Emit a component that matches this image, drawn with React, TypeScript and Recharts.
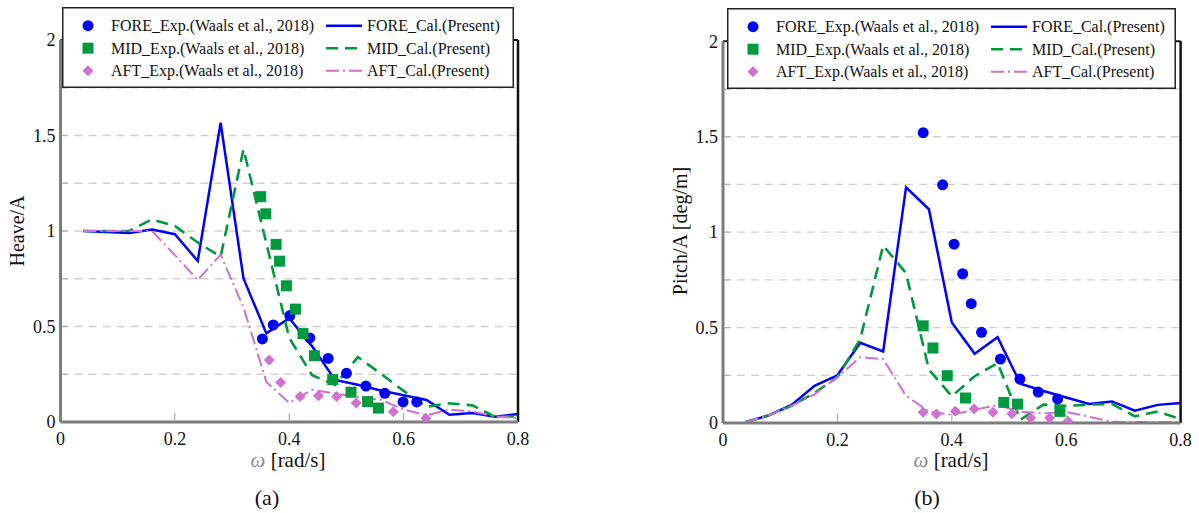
import React from 'react';
import { ComposedChart, Line, Scatter, XAxis, YAxis, CartesianGrid, ReferenceLine, Legend } from 'recharts';

// ---------- data ----------
const omegaCal = [0.04, 0.08, 0.12, 0.16, 0.2, 0.24, 0.28, 0.32, 0.36, 0.4, 0.44, 0.48, 0.52, 0.56, 0.6, 0.64, 0.68, 0.72, 0.76, 0.8];

// (a) Heave/A
const heaveForeCal = [1.0, 0.995, 0.99, 1.008, 0.983, 0.843, 1.567, 0.752, 0.464, 0.543, 0.396, 0.22, 0.195, 0.165, 0.14, 0.115, 0.038, 0.047, 0.028, 0.042];
const heaveMidCal = [1.0, 1.0, 1.0, 1.061, 1.026, 0.94, 0.866, 1.428, 0.935, 0.44, 0.245, 0.194, 0.34, 0.253, 0.163, 0.08, 0.098, 0.087, 0.028, 0.03];
const heaveAftCal = [1.0, 1.0, 1.0, 1.0, 0.874, 0.743, 0.876, 0.6, 0.21, 0.1, 0.168, 0.15, 0.13, 0.116, 0.065, 0.035, 0.065, 0.055, 0.03, 0.02];

const heaveForeExpW = [0.353, 0.372, 0.401, 0.436, 0.468, 0.5, 0.534, 0.567, 0.599, 0.623];
const heaveForeExp = [0.435, 0.508, 0.557, 0.44, 0.333, 0.255, 0.188, 0.15, 0.105, 0.105];
const heaveMidExpW = [0.35, 0.359, 0.377, 0.383, 0.395, 0.411, 0.424, 0.444, 0.476, 0.508, 0.537, 0.556];
const heaveMidExp = [1.18, 1.09, 0.93, 0.842, 0.713, 0.591, 0.463, 0.347, 0.222, 0.156, 0.107, 0.073];
const heaveAftExpW = [0.365, 0.385, 0.419, 0.451, 0.483, 0.517, 0.582, 0.639];
const heaveAftExp = [0.324, 0.207, 0.134, 0.138, 0.134, 0.1, 0.054, 0.019];

// (b) Pitch/A
const pitchForeCal = [0.005, 0.04, 0.095, 0.195, 0.25, 0.42, 0.375, 1.235, 1.12, 0.527, 0.363, 0.45, 0.206, 0.168, 0.134, 0.1, 0.113, 0.065, 0.095, 0.105];
const pitchMidCal = [0.005, 0.04, 0.09, 0.158, 0.24, 0.44, 0.93, 0.785, 0.28, 0.14, 0.245, 0.314, 0.017, 0.096, 0.09, 0.096, 0.1, 0.035, 0.06, 0.02];
const pitchAftCal = [0.005, 0.04, 0.09, 0.15, 0.24, 0.345, 0.335, 0.143, 0.06, 0.043, 0.07, 0.093, 0.06, 0.05, 0.058, 0.033, 0.006, 0.005, 0.005, 0.005];

const pitchForeExpW = [0.35, 0.384, 0.404, 0.419, 0.434, 0.452, 0.485, 0.519, 0.551, 0.585];
const pitchForeExp = [1.521, 1.248, 0.937, 0.782, 0.625, 0.475, 0.335, 0.23, 0.162, 0.126];
const pitchMidExpW = [0.35, 0.367, 0.392, 0.424, 0.491, 0.515, 0.589];
const pitchMidExp = [0.509, 0.393, 0.248, 0.131, 0.108, 0.099, 0.061];
const pitchAftExpW = [0.35, 0.373, 0.406, 0.439, 0.472, 0.505, 0.538, 0.571, 0.603];
const pitchAftExp = [0.056, 0.047, 0.061, 0.073, 0.056, 0.049, 0.026, 0.026, 0.009];

const xTicks = [0, 0.2, 0.4, 0.6, 0.8];
const yTicks = [0, 0.25, 0.5, 0.75, 1, 1.25, 1.5, 1.75, 2];

const legendExp = ['FORE_Exp.(Waals et al., 2018)', 'MID_Exp.(Waals et al., 2018)', 'AFT_Exp.(Waals et al., 2018)'];
const legendCal = ['FORE_Cal.(Present)', 'MID_Cal.(Present)', 'AFT_Cal.(Present)'];

// ---------- styles ----------
const FONT = "'Liberation Serif', 'Times New Roman', serif";
const BLUE = '#0000ff';
const GREEN = '#009a3e';
const PINK = '#d070d0';
const COLORS = [BLUE, GREEN, PINK];
const DASHES = [undefined, '12 7', '13 4 2 4'];
const WIDTHS = [2.5, 2.6, 2];
const AXIS_GRAY = '#7d7d7d';
const X_TICK_MARGIN = 10;
const Y_TICK_MARGIN = 5;

const pts = (xs: number[], ys: number[]) => xs.map((x, i) => ({ x, y: ys[i] }));

const Circle = (p: any) => <circle cx={p.cx} cy={p.cy} r={5.5} fill={BLUE} />;
const Square = (p: any) => <rect x={p.cx - 5.5} y={p.cy - 5.5} width={11} height={11} fill={GREEN} />;
const Diamond = (p: any) => (
  <polygon points={`${p.cx},${p.cy - 5.5} ${p.cx + 5.5},${p.cy} ${p.cx},${p.cy + 5.5} ${p.cx - 5.5},${p.cy}`} fill={PINK} />
);
const SHAPES = [Circle, Square, Diamond];

const fmt = (v: number) => String(v);

const XTick = (props: any) => {
  const { x, y, payload } = props;
  const v = payload.value;
  const axisY = y - X_TICK_MARGIN;
  const inner = v > 0.001 && v < 0.799;
  return (
    <g>
      {inner && <line x1={x} x2={x} y1={axisY - 1.5} y2={axisY - 9} stroke="#b0b0b0" strokeWidth={1.2} />}
      <text x={x} y={y} dy="0.71em" textAnchor="middle" fontFamily={FONT} fontSize={18} fill="#111">
        {fmt(v)}
      </text>
    </g>
  );
};

const YTick = (props: any) => {
  const { x, y, payload } = props;
  const v = payload.value;
  const axisX = x + Y_TICK_MARGIN;
  const major = Math.abs(v * 2 - Math.round(v * 2)) < 1e-6;
  const inner = v > 0.001 && v < 1.999;
  return (
    <g>
      {inner && <line x1={axisX + 1.5} x2={axisX + 7} y1={y} y2={y} stroke="#b0b0b0" strokeWidth={1.2} />}
      {major && (
        <text x={x} y={y} dy="0.35em" textAnchor="end" fontFamily={FONT} fontSize={18} fill="#111">
          {fmt(v)}
        </text>
      )}
    </g>
  );
};

const LegendBox = ({ width }: { width: number }) => (
  <svg width={width} height={81} style={{ display: 'block' }}>
    <rect x={0.75} y={0.75} width={width - 1.5} height={79.5} fill="#fff" stroke="#222" strokeWidth={1.5} />
    {legendExp.map((label, i) => {
      const cy = 18.7 + i * 22.5;
      const Shape = SHAPES[i];
      return (
        <g key={label}>
          <Shape cx={26} cy={cy} />
          <text x={49} y={cy} dy="0.35em" fontFamily={FONT} fontSize={16} fill="#111">
            {label}
          </text>
          <line x1={264} x2={300} y1={cy} y2={cy} stroke={COLORS[i]} strokeWidth={WIDTHS[i]} strokeDasharray={DASHES[i]} />
          <text x={305} y={cy} dy="0.35em" fontFamily={FONT} fontSize={16} fill="#111">
            {legendCal[i]}
          </text>
        </g>
      );
    })}
  </svg>
);

type PanelProps = {
  left: number;
  width: number;
  margin: { top: number; right: number; left: number; bottom: number };
  yAxisWidth: number;
  xAxisHeight: number;
  legendLeft: number;
  legendTop: number;
  legendWidth: number;
  cal: number[][];
  exp: { w: number[]; v: number[] }[];
};

const Panel = (p: PanelProps) => (
  <div style={{ position: 'absolute', left: p.left, top: 0 }}>
    <ComposedChart width={p.width} height={513} margin={p.margin}>
      <CartesianGrid vertical={false} stroke="#d0d0d0" strokeDasharray="8 6" strokeWidth={1.3} />
      <XAxis
        type="number"
        dataKey="x"
        domain={[0, 0.8]}
        ticks={xTicks}
        allowDataOverflow
        height={p.xAxisHeight}
        tickSize={0}
        tickMargin={X_TICK_MARGIN}
        tickLine={false}
        axisLine={{ stroke: AXIS_GRAY, strokeWidth: 3 }}
        tick={<XTick />}
        interval={0}
      />
      <YAxis
        type="number"
        dataKey="y"
        domain={[0, 2]}
        ticks={yTicks}
        allowDataOverflow
        width={p.yAxisWidth}
        tickSize={0}
        tickMargin={Y_TICK_MARGIN}
        tickLine={false}
        axisLine={{ stroke: AXIS_GRAY, strokeWidth: 3 }}
        tick={<YTick />}
        interval={0}
      />
      <ReferenceLine y={2} stroke="#111" strokeWidth={2} />
      <ReferenceLine x={0.8} stroke="#111" strokeWidth={2.5} />
      {p.cal.map((vals, i) => (
        <Line
          key={'cal' + i}
          data={pts(omegaCal, vals)}
          dataKey="y"
          type="linear"
          stroke={COLORS[i]}
          strokeWidth={WIDTHS[i]}
          strokeDasharray={DASHES[i]}
          dot={false}
          activeDot={false}
          isAnimationActive={false}
        />
      ))}
      {p.exp.map((s, i) => (
        <Scatter
          key={'exp' + i}
          data={pts(s.w, s.v)}
          dataKey="y"
          fill={COLORS[i]}
          shape={SHAPES[i]}
          isAnimationActive={false}
        />
      ))}
      <Legend
        layout="horizontal"
        verticalAlign="middle"
        align="center"
        wrapperStyle={{ left: p.legendLeft, top: p.legendTop, width: p.legendWidth, height: 81 }}
        content={() => <LegendBox width={p.legendWidth} />}
      />
    </ComposedChart>
  </div>
);

const textBase: React.CSSProperties = {
  position: 'absolute',
  fontFamily: FONT,
  color: '#111',
  whiteSpace: 'nowrap',
  lineHeight: 1,
};

const Omega = () => (
  <span>
    <span style={{ fontStyle: 'italic', color: '#8a8a8a' }}>ω</span> [rad/s]
  </span>
);

export default function App() {
  return (
    <div style={{ position: 'absolute', left: 0, top: 0, width: 1199, height: 513, background: '#fff', overflow: 'hidden' }}>
      <Panel
        left={0}
        width={540}
        margin={{ top: 40, right: 22, left: 0.5, bottom: 0 }}
        yAxisWidth={60}
        xAxisHeight={91}
        legendLeft={62}
        legendTop={7}
        legendWidth={452}
        cal={[heaveForeCal, heaveMidCal, heaveAftCal]}
        exp={[
          { w: heaveForeExpW, v: heaveForeExp },
          { w: heaveMidExpW, v: heaveMidExp },
          { w: heaveAftExpW, v: heaveAftExp },
        ]}
      />
      <Panel
        left={640}
        width={559}
        margin={{ top: 41.3, right: 18.4, left: 0, bottom: 0 }}
        yAxisWidth={83}
        xAxisHeight={90}
        legendLeft={87}
        legendTop={8}
        legendWidth={449}
        cal={[pitchForeCal, pitchMidCal, pitchAftCal]}
        exp={[
          { w: pitchForeExpW, v: pitchForeExp },
          { w: pitchMidExpW, v: pitchMidExp },
          { w: pitchAftExpW, v: pitchAftExp },
        ]}
      />
      {/* axis titles */}
      <div style={{ ...textBase, fontSize: 20, left: 17, top: 231, transform: 'translate(-50%, -50%) rotate(-90deg)' }}>Heave/A</div>
      <div style={{ ...textBase, fontSize: 20, left: 680, top: 231, transform: 'translate(-50%, -50%) rotate(-90deg)' }}>Pitch/A [deg/m]</div>
      <div style={{ ...textBase, fontSize: 21, left: 288, top: 460, transform: 'translate(-50%, -50%)' }}><Omega /></div>
      <div style={{ ...textBase, fontSize: 21, left: 951, top: 460, transform: 'translate(-50%, -50%)' }}><Omega /></div>
      <div style={{ ...textBase, fontSize: 22, left: 267, top: 498, transform: 'translate(-50%, -50%)' }}>(a)</div>
      <div style={{ ...textBase, fontSize: 22, left: 927, top: 498, transform: 'translate(-50%, -50%)' }}>(b)</div>
    </div>
  );
}
